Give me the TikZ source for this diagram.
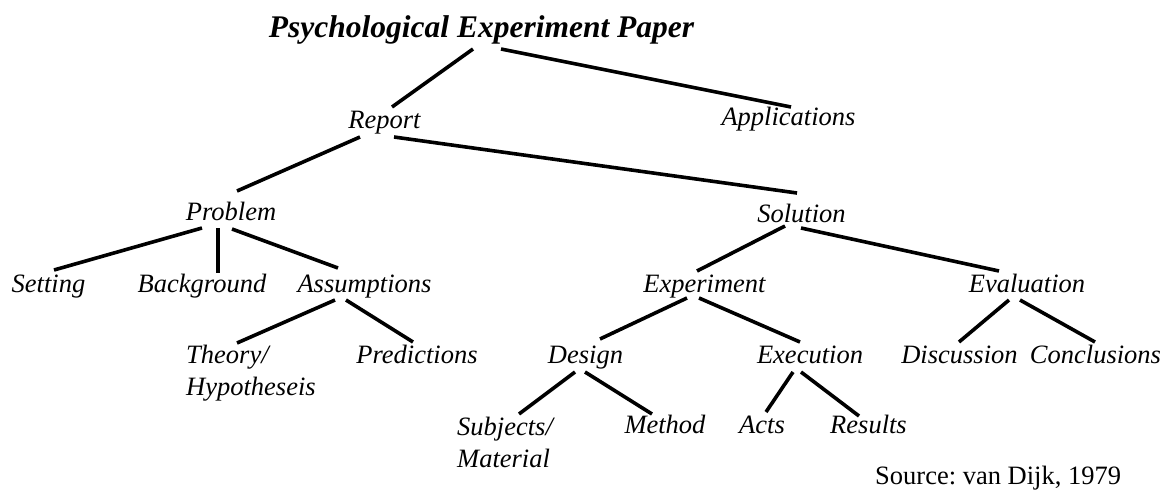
\documentclass[tikz,border=0pt]{standalone}
\usepackage{fontspec}
\setmainfont{Liberation Serif}
\frenchspacing
\begin{document}
\begin{tikzpicture}[x=1pt,y=-1pt,
  lab/.style={font=\fontsize{26.5}{32}\selectfont\itshape, inner sep=0pt, anchor=base},
  mlab/.style={font=\fontsize{26.5}{32}\selectfont\itshape, inner sep=0pt, align=left, anchor=base west},
  ttl/.style={font=\fontsize{31.5}{36}\selectfont\bfseries\itshape, inner sep=0pt, anchor=base},
  src/.style={font=\fontsize{26.5}{30}\selectfont, inner sep=0pt, anchor=base west},
  edge/.style={line width=3.6pt}]
\useasboundingbox (0,0) rectangle (1164,493);
% nodes
\node[ttl] (title) at (481.5,37) {Psychological Experiment Paper};
\node[lab] (report) at (384.5,128) {Report};
\node[lab] (applications) at (788.5,125) {Applications};
\node[lab] (problem) at (231,220) {Problem};
\node[lab] (solution) at (801.5,222) {Solution};
\node[lab] (setting) at (48.5,292) {Setting};
\node[lab] (background) at (202,292) {Background};
\node[lab] (assumptions) at (364.5,292) {Assumptions};
\node[mlab] (theory) at (186,395) {Theory/\\Hypotheseis};
\node[lab] (predictions) at (417,363) {Predictions};
\node[lab] (experiment) at (704.5,292) {Experiment};
\node[lab] (evaluation) at (1027,292) {Evaluation};
\node[lab] (design) at (585.5,363) {Design};
\node[lab] (execution) at (810,363) {Execution};
\node[lab] (discussion) at (959.5,363) {Discussion};
\node[lab] (conclusions) at (1095.5,363) {Conclusions};
\node[mlab] (subjects) at (457,467) {Subjects/\\Material};
\node[lab] (method) at (665,433) {Method};
\node[lab] (acts) at (762,433) {Acts};
\node[lab] (results) at (868.5,433) {Results};
\node[src] (source) at (875,484) {Source: van Dijk, 1979};
% connectors
\draw[edge] ([shift={(-8.5,12)}]title.base) -- ([shift={(7.5,-21)}]report.base);
\draw[edge] ([shift={(19.5,12)}]title.base) -- ([shift={(2.5,-18)}]applications.base);
\draw[edge] ([shift={(-24.5,9)}]report.base) -- ([shift={(6,-29)}]problem.base);
\draw[edge] ([shift={(9.5,9)}]report.base) -- ([shift={(-4.5,-29)}]solution.base);
\draw[edge] ([shift={(-29,8)}]problem.base) -- ([shift={(5.5,-22)}]setting.base);
\draw[edge] ([shift={(-13,8)}]problem.base) -- ([shift={(16,-19)}]background.base);
\draw[edge] ([shift={(1,9)}]problem.base) -- ([shift={(-26.5,-24)}]assumptions.base);
\draw[edge] ([shift={(-16.5,4)}]solution.base) -- ([shift={(-7.5,-21)}]experiment.base);
\draw[edge] ([shift={(-0.5,6)}]solution.base) -- ([shift={(-28,-21)}]evaluation.base);
\draw[edge] ([shift={(-29.5,8)}]assumptions.base) -- ([shift={(51,-52)}]theory.base west);
\draw[edge] ([shift={(-18.5,8)}]assumptions.base) -- ([shift={(-4,-21)}]predictions.base);
\draw[edge] ([shift={(-17.5,6)}]experiment.base) -- ([shift={(14.5,-24)}]design.base);
\draw[edge] ([shift={(-5.5,6)}]experiment.base) -- ([shift={(-10,-21)}]execution.base);
\draw[edge] ([shift={(-18,8)}]evaluation.base) -- ([shift={(-0.5,-21)}]discussion.base);
\draw[edge] ([shift={(-7,8)}]evaluation.base) -- ([shift={(-0.5,-21)}]conclusions.base);
\draw[edge] ([shift={(-10.5,9)}]design.base) -- ([shift={(62,-53)}]subjects.base west);
\draw[edge] ([shift={(-0.5,9)}]design.base) -- ([shift={(-13,-19)}]method.base);
\draw[edge] ([shift={(-17,9)}]execution.base) -- ([shift={(4,-21)}]acts.base);
\draw[edge] ([shift={(-9,9)}]execution.base) -- ([shift={(-9.5,-17)}]results.base);
\end{tikzpicture}
\end{document}
